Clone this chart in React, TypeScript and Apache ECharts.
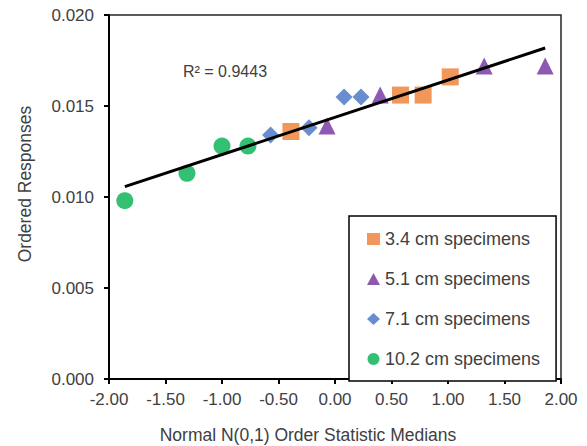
import React, { useEffect, useRef } from "react";
import * as echarts from "echarts";

const seriesNames = ["3.4 cm specimens", "5.1 cm specimens", "7.1 cm specimens", "10.2 cm specimens"];
const s34: [number, number][] = [[-0.39, 0.0136], [0.58, 0.0156], [0.78, 0.0156], [1.02, 0.0166]];
const s51: [number, number][] = [[-0.07, 0.0139], [0.40, 0.0156], [1.32, 0.0172], [1.86, 0.0172]];
const s71: [number, number][] = [[-0.57, 0.0134], [-0.23, 0.0138], [0.08, 0.0155], [0.23, 0.0155]];
const s102: [number, number][] = [[-1.86, 0.0098], [-1.31, 0.0113], [-1.00, 0.0128], [-0.77, 0.0128]];
const r2Label = "R² = 0.9443";
const xTitle = "Normal N(0,1) Order Statistic Medians";
const yTitle = "Ordered Responses";

const FONT = "Liberation Sans, Arial, sans-serif";
const TXT = "#404040";

function fitLine(pts: [number, number][]): [number, number][] {
  const n = pts.length;
  let sx = 0, sy = 0, sxx = 0, sxy = 0;
  for (const [x, y] of pts) { sx += x; sy += y; sxx += x * x; sxy += x * y; }
  const b = (n * sxy - sx * sy) / (n * sxx - sx * sx);
  const a = (sy - b * sx) / n;
  const xs = pts.map((p) => p[0]);
  const x0 = Math.min(...xs), x1 = Math.max(...xs);
  return [[x0, a + b * x0], [x1, a + b * x1]];
}

export default function App() {
  const ref = useRef<HTMLDivElement>(null);
  useEffect(() => {
    if (!ref.current) return;
    const chart = echarts.init(ref.current, undefined, { renderer: "svg" });
    const all = [...s34, ...s51, ...s71, ...s102];
    const trend = fitLine(all);
    chart.setOption({
      animation: false,
      backgroundColor: "#fff",
      grid: { left: 109, right: 26, top: 15, bottom: 67, show: true, borderColor: "#262626", borderWidth: 1.5, backgroundColor: "transparent" },
      xAxis: {
        type: "value", min: -2, max: 2, interval: 0.5,
        axisLine: { onZero: false, lineStyle: { color: "#000", width: 2 } },
        axisTick: { show: true, length: 5, lineStyle: { color: "#000", width: 2 } },
        axisLabel: { formatter: (v: number) => v.toFixed(2), color: TXT, fontFamily: FONT, fontSize: 17, margin: 12 },
        splitLine: { show: false },
      },
      yAxis: {
        type: "value", min: 0, max: 0.02, interval: 0.005,
        axisLine: { onZero: false, lineStyle: { color: "#000", width: 2 } },
        axisTick: { show: true, length: 5, lineStyle: { color: "#000", width: 2 } },
        axisLabel: { formatter: (v: number) => v.toFixed(3), color: TXT, fontFamily: FONT, fontSize: 17, margin: 15 },
        splitLine: { show: false },
      },
      legend: {
        data: seriesNames,
        orient: "vertical",
        left: 349, top: 216,
        padding: [14, 16, 13, 18],
        itemWidth: 13, itemHeight: 12, itemGap: 22,
        borderColor: "#000", borderWidth: 1.5, backgroundColor: "#fff",
        textStyle: { color: TXT, fontFamily: FONT, fontSize: 18 },
      },
      graphic: [
        { type: "text", left: 183, top: 63, style: { text: r2Label, fill: TXT, font: `16px ${FONT}` } },
        { type: "text", x: 308, y: 435, style: { text: xTitle, fill: TXT, font: `17.5px ${FONT}`, align: "center", verticalAlign: "middle" } },
        { type: "text", x: 25, y: 184, rotation: Math.PI / 2, style: { text: yTitle, fill: TXT, font: `17.5px ${FONT}`, align: "center", verticalAlign: "middle" } },
      ],
      series: [
        { name: seriesNames[0], type: "scatter", data: s34, symbol: "rect", symbolSize: 17, itemStyle: { color: "#ED7D31" }, z: 2 },
        { name: seriesNames[1], type: "scatter", data: s51, symbol: "triangle", symbolSize: 17, itemStyle: { color: "#7030A0" }, z: 2 },
        { name: seriesNames[2], type: "scatter", data: s71, symbol: "diamond", symbolSize: 17, itemStyle: { color: "#4472C4" }, z: 2 },
        { name: seriesNames[3], type: "scatter", data: s102, symbol: "circle", symbolSize: 17, itemStyle: { color: "#00B050" }, z: 2 },
        { name: "trend", type: "line", data: trend, showSymbol: false, symbol: "none", lineStyle: { color: "#000", width: 3 }, z: 5, silent: true },
      ],
    });
    return () => chart.dispose();
  }, []);
  return <div ref={ref} style={{ width: 587, height: 446, position: "absolute", left: 0, top: 0 }} />;
}
